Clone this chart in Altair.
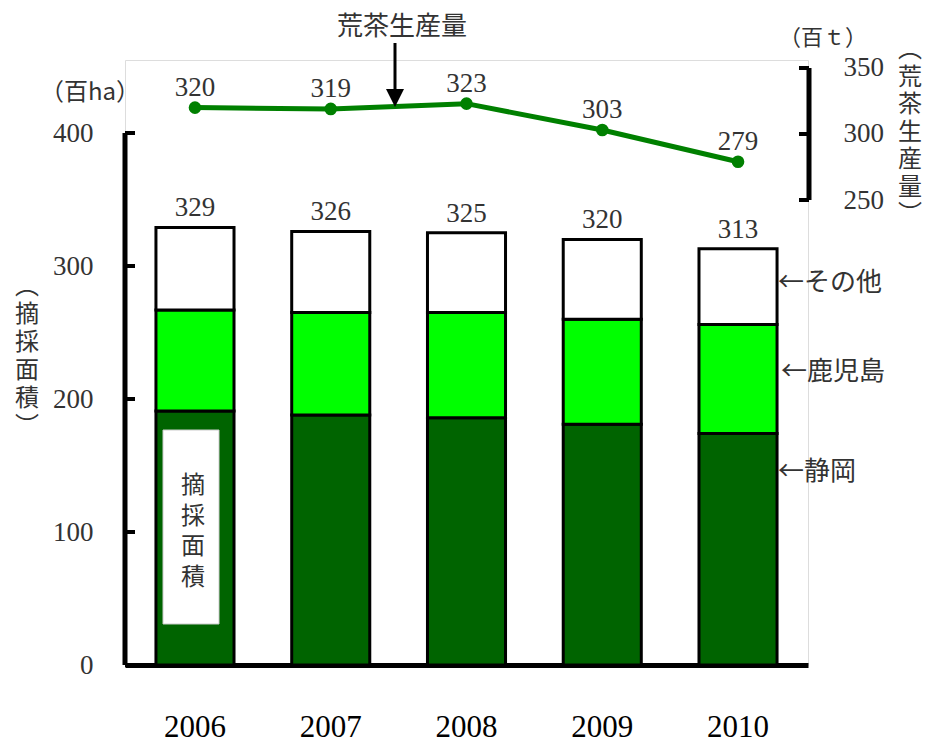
import altair as alt
import pandas as pd

years = ["2006", "2007", "2008", "2009", "2010"]
shizuoka = [191, 188, 186, 181, 174]
kagoshima = [76, 77, 79, 79, 82]
total_area = [329, 326, 325, 320, 313]
production = [320, 319, 323, 303, 279]
left_ticks = [0, 100, 200, 300, 400]
right_ticks = [250, 300, 350]
categories = ["静岡", "鹿児島", "その他"]
colors = ["#006400", "#00FF00", "#FFFFFF"]

rows = []
for i, yr in enumerate(years):
    s, k, t = shizuoka[i], kagoshima[i], total_area[i]
    rows.append(dict(year=yr, cat=categories[0], v0=0, v1=s))
    rows.append(dict(year=yr, cat=categories[1], v0=s, v1=s + k))
    rows.append(dict(year=yr, cat=categories[2], v0=s + k, v1=t))
bars_df = pd.DataFrame(rows)
tot_df = pd.DataFrame({"year": years, "v1": total_area})
prod_df = pd.DataFrame({"year": years, "p": production})
lt_df = pd.DataFrame({"v1": left_ticks})
rt_df = pd.DataFrame({"p": right_ticks})
lax_df = pd.DataFrame({"v1": [min(left_ticks)], "v0": [max(left_ticks)]})
rax_df = pd.DataFrame({"p": [min(right_ticks)], "p2": [max(right_ticks)]})

W, H = 683, 605
LDOM = [0, 454.9]
RDOM = [-102.27, 356.06]
NUMF = "Liberation Serif"
JPF = "Noto Sans CJK JP"
TXT = "#333333"

xaxis = alt.Axis(title=None, domain=True, domainColor="black", domainWidth=5,
                 ticks=False, tickSize=0, grid=False, labelFont=NUMF,
                 labelFontSize=31, labelColor="black", labelPadding=62,
                 labelBaseline="middle", labelAngle=0)
xscale = alt.Scale(domain=years, paddingInner=0.425, paddingOuter=0.228)
laxis = alt.Axis(values=left_ticks, title=None, domain=False, ticks=False, tickSize=0,
                 grid=False, labelFont=NUMF, labelFontSize=27,
                 labelColor=TXT, labelPadding=32)
raxis = alt.Axis(orient="right", values=right_ticks, title=None, domain=False,
                 ticks=False, tickSize=0, grid=False, labelFont=NUMF, labelFontSize=27,
                 labelColor=TXT, labelPadding=35, labelAlign="left")
lscale = alt.Scale(domain=LDOM, nice=False, zero=False)
rscale = alt.Scale(domain=RDOM, nice=False, zero=False)


def X():
    return alt.X("year:N", scale=xscale, sort=years, axis=xaxis)


def YL():
    return alt.Y("v1:Q", scale=lscale, axis=laxis)


def YR():
    return alt.Y("p:Q", scale=rscale, axis=raxis)


bars = alt.Chart(bars_df).mark_bar(stroke="black", strokeWidth=3).encode(
    x=X(), y=YL(), y2="v0:Q",
    color=alt.Color("cat:N", scale=alt.Scale(domain=categories, range=colors), legend=None),
)
bar_labels = alt.Chart(tot_df).mark_text(font=NUMF, fontSize=27, color=TXT, dy=-19,
                                         baseline="middle").encode(
    x=X(), y=YL(), text="v1:Q")
lax = alt.Chart(lax_df).mark_rule(color="black", strokeWidth=5).encode(
    x=alt.value(0), y=YL(), y2="v0:Q")
lticks = alt.Chart(lt_df).mark_rule(color="black", strokeWidth=4).encode(
    x=alt.value(0), x2=alt.value(10), y=YL())

box = alt.Chart(pd.DataFrame({"a": [0]})).mark_rect(fill="white", stroke="#cccccc",
                                                    strokeWidth=1).encode(
    x=alt.value(38), x2=alt.value(94), y=alt.value(370), y2=alt.value(564))
box_text = alt.Chart(pd.DataFrame({"t": ["摘\n採\n面\n積"]})).mark_text(
    font=JPF, fontSize=24, color=TXT, lineBreak="\n", lineHeight=30.7,
    baseline="middle", align="center").encode(
    x=alt.value(68), y=alt.value(426), text="t:N")

left = alt.layer(bars, bar_labels, lax, lticks, box, box_text)

line = alt.Chart(prod_df).mark_line(color="#008000", strokeWidth=5).encode(
    x=X(), y=YR())
pts = alt.Chart(prod_df).mark_circle(color="#008000", size=160, opacity=1).encode(
    x=X(), y=YR())
pt_labels = alt.Chart(prod_df).mark_text(font=NUMF, fontSize=27, color=TXT, dy=-20,
                                         baseline="middle").encode(
    x=X(), y=YR(), text="p:Q")
rax = alt.Chart(rax_df).mark_rule(color="black", strokeWidth=5).encode(
    x=alt.value(684), y=YR(), y2="p2:Q")
rticks = alt.Chart(rt_df).mark_rule(color="black", strokeWidth=4).encode(
    x=alt.value(674), x2=alt.value(684), y=YR())

right = alt.layer(line, pts, pt_labels, rax, rticks)


def label(text, x, y, size, font=JPF, align="center", lh=None, color=TXT):
    kw = dict(font=font, fontSize=size, color=color, align=align, baseline="middle")
    if lh is not None:
        kw["lineBreak"] = "\n"
        kw["lineHeight"] = lh
    return alt.Chart(pd.DataFrame({"t": [text]})).mark_text(**kw).encode(
        x=alt.value(x), y=alt.value(y), text="t:N")


arrow_line = alt.Chart(pd.DataFrame({"a": [0]})).mark_rule(color="black", strokeWidth=3).encode(
    x=alt.value(270), y=alt.value(-17), y2=alt.value(32))
arrow_head = alt.Chart(pd.DataFrame({"a": [0]})).mark_point(
    shape="M-1,-1L1,-1L0,1Z", filled=True, color="black", opacity=1, size=324).encode(
    x=alt.value(270), y=alt.value(38))

annots = alt.layer(
    label("荒茶生産量", 277, -33, 26),
    arrow_line, arrow_head,
    label("（百ha）", -35, 33, 24),
    label("（百ｔ）", 698, -22, 22),
    label("︵\n摘\n採\n面\n積\n︶", -98, 227, 24, lh=28),
    label("︵\n荒\n茶\n生\n産\n量\n︶", 785, -10, 24, lh=27.5),
    label("←その他", 653, 223, 26, align="left"),
    label("←鹿児島", 656, 312, 26, align="left"),
    label("←静岡", 653, 412, 26, align="left"),
)

chart = alt.layer(left, right, annots).resolve_scale(y="independent").properties(
    width=W, height=H, autosize=alt.AutoSizeParams(type="none"),
    padding={"left": 125, "top": 60, "right": 118, "bottom": 79},
).configure_view(strokeWidth=0).configure(background="white")

chart.save("out.html", embed_options={"renderer": "svg", "actions": False})
